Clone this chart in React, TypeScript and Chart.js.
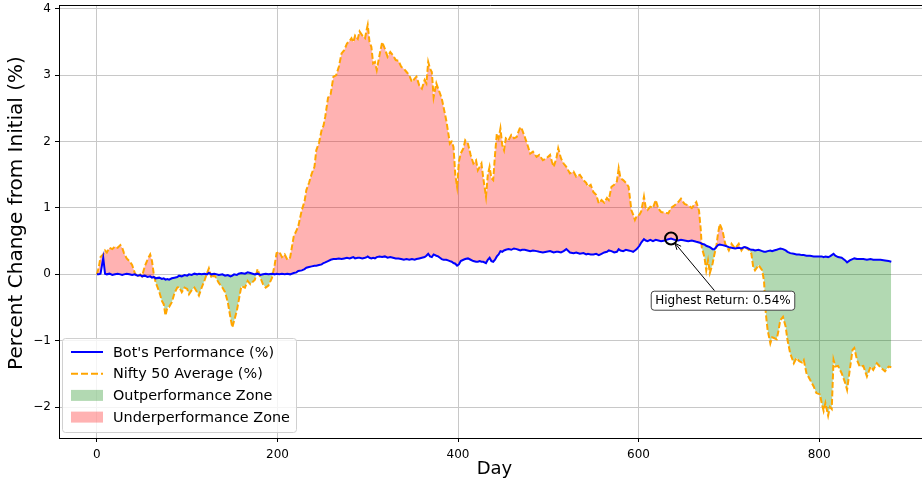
import React, { useEffect, useRef } from 'react';
import { Chart, registerables } from 'chart.js';

Chart.register(...registerables);

const days = [
  0, 2, 4, 7, 9, 11, 14, 17, 20, 23,
  26, 28, 30, 33, 36, 39, 42, 45, 48, 50,
  53, 56, 59, 61, 63, 65, 69, 72, 74, 76,
  78, 80, 83, 86, 89, 91, 94, 97, 100, 102,
  105, 108, 111, 113, 116, 119, 122, 124, 127, 130,
  133, 135, 139, 142, 145, 148, 150, 152, 155, 157,
  160, 164, 167, 170, 175, 178, 181, 184, 187, 190,
  194, 197, 199, 202, 205, 208, 211, 214, 218, 221,
  223, 227, 230, 232, 235, 238, 241, 243, 246, 249,
  251, 253, 256, 259, 262, 265, 268, 271, 274, 277,
  280, 282, 284, 286, 289, 291, 294, 297, 299, 300,
  302, 304, 306, 308, 310, 313, 316, 319, 322, 325,
  328, 331, 334, 337, 340, 343, 346, 349, 352, 354,
  357, 360, 363, 365, 367, 369, 371, 373, 376, 378,
  380, 382, 384, 387, 389, 391, 393, 395, 397, 399,
  401, 403, 406, 408, 411, 414, 417, 420, 422, 424,
  426, 428, 431, 433, 435, 437, 439, 441, 443, 445,
  447, 449, 451, 453, 456, 459, 462, 465, 467, 469,
  471, 474, 477, 480, 483, 487, 490, 494, 498, 502,
  504, 506, 509, 511, 514, 517, 520, 524, 528, 531,
  535, 539, 542, 544, 547, 550, 553, 556, 559, 562,
  565, 567, 570, 573, 576, 578, 580, 583, 586, 589,
  592, 594, 596, 598, 601, 603, 606, 608, 610, 613,
  616, 619, 622, 625, 629, 633, 636, 640, 644, 647,
  651, 655, 659, 664, 667, 669, 670, 673, 675, 677,
  679, 682, 684, 686, 688, 690, 693, 696, 700, 703,
  707, 711, 714, 717, 720, 723, 725, 727, 729, 733,
  737, 739, 741, 743, 746, 748, 750, 753, 755, 757,
  760, 763, 765, 768, 772, 775, 778, 781, 783, 786,
  790, 794, 797, 801, 803, 805, 807, 810, 812, 814,
  816, 818, 821, 825, 829, 831, 834, 837, 839, 842,
  845, 849, 853, 857, 860, 864, 868, 873, 877, 880,
];

const niftyValues = [
  0.0, 0.1, 0.26, 0.3, 0.36, 0.33, 0.4, 0.38, 0.42, 0.4,
  0.44, 0.4, 0.32, 0.24, 0.2, 0.14, 0.02, -0.04, 0.0, -0.03,
  0.12, 0.22, 0.3, 0.2, 0.0, -0.12, -0.26, -0.4, -0.45, -0.62,
  -0.5, -0.49, -0.42, -0.28, -0.2, -0.19, -0.27, -0.2, -0.22, -0.3,
  -0.24, -0.2, -0.27, -0.32, -0.2, -0.1, 0.02, 0.09, -0.06, -0.01,
  -0.08, -0.13, -0.2, -0.27, -0.42, -0.66, -0.8, -0.7, -0.55, -0.4,
  -0.18, -0.2, -0.1, -0.15, -0.08, 0.08, -0.05, -0.15, -0.2, -0.17,
  -0.05, 0.15, 0.32, 0.34, 0.26, 0.3, 0.22, 0.25, 0.57, 0.66,
  0.72, 0.97, 1.1, 1.27, 1.38, 1.52, 1.62, 1.87, 1.98, 2.18,
  2.24, 2.38, 2.66, 2.72, 2.98, 3.0, 3.13, 3.33, 3.38, 3.48,
  3.52, 3.56, 3.5, 3.6, 3.55, 3.66, 3.6, 3.56, 3.7, 3.76,
  3.5, 3.43, 3.18, 3.2, 3.08, 3.3, 3.5, 3.4, 3.28, 3.35,
  3.3, 3.23, 3.22, 3.13, 3.1, 3.05, 3.0, 2.9, 2.95, 2.98,
  2.85, 2.8, 2.93, 2.88, 3.2, 3.1, 3.05, 2.67, 2.88, 2.8,
  2.73, 2.65, 2.52, 2.32, 2.15, 1.97, 2.0, 1.92, 1.5, 1.32,
  1.7, 1.82, 1.9, 2.02, 1.97, 1.8, 1.67, 1.72, 1.57, 1.62,
  1.67, 1.45, 1.17, 1.5, 1.62, 1.45, 1.42, 1.8, 2.12, 2.05,
  2.2, 1.95, 1.87, 2.05, 2.02, 2.1, 2.05, 2.07, 2.15, 2.22,
  2.18, 2.07, 1.95, 1.82, 1.85, 1.77, 1.8, 1.72, 1.75, 1.8,
  1.7, 1.62, 1.75, 1.9, 1.75, 1.67, 1.62, 1.52, 1.55, 1.47,
  1.5, 1.42, 1.38, 1.32, 1.35, 1.24, 1.2, 1.07, 1.12, 1.08,
  1.15, 1.12, 1.32, 1.35, 1.4, 1.6, 1.45, 1.42, 1.38, 1.32,
  0.97, 0.9, 0.82, 0.88, 0.9, 0.95, 1.17, 1.0, 0.97, 1.02,
  1.0, 1.12, 0.99, 0.94, 0.93, 0.92, 1.0, 1.04, 1.09, 1.14,
  1.06, 1.04, 1.0, 1.09, 0.96, 0.66, 0.41, 0.26, 0.06, 0.21,
  0.02, 0.16, 0.3, 0.41, 0.61, 0.76, 0.66, 0.46, 0.36, 0.46,
  0.39, 0.46, 0.36, 0.42, 0.39, 0.36, 0.31, 0.11, 0.06, 0.14,
  0.06, -0.1, -0.59, -0.84, -1.04, -0.95, -0.96, -0.98, -0.85, -0.69,
  -0.64, -0.79, -0.99, -1.19, -1.34, -1.26, -1.31, -1.33, -1.29, -1.49,
  -1.59, -1.69, -1.79, -1.81, -1.95, -2.06, -1.94, -2.13, -2.0, -2.03,
  -1.29, -1.39, -1.38, -1.49, -1.64, -1.74, -1.44, -1.14, -1.11, -1.29,
  -1.39, -1.38, -1.54, -1.39, -1.44, -1.34, -1.4, -1.46, -1.39, -1.4,
];

const botValues = [
  0, 0.0, 0.01, 0.25, 0.01, 0.0, 0.01, -0.01, 0.0, 0.01,
  0.0, -0.01, 0.0, 0.01, 0.0, -0.01, 0.0, -0.02, -0.01, -0.03,
  -0.02, -0.04, -0.03, -0.05, -0.04, -0.06, -0.05, -0.07, -0.06, -0.08,
  -0.07, -0.08, -0.06, -0.05, -0.04, -0.02, -0.03, -0.01, -0.02, 0.0,
  -0.01, 0.01, 0.0, 0.01, 0.0, 0.01, 0.0, 0.02, 0.0, 0.01,
  0.0, -0.01, 0.0, -0.02, -0.01, -0.03, -0.02, 0.0, -0.01, 0.01,
  0.02, 0.01, 0.03, 0.02, 0.0, 0.01, -0.01, 0.0, 0.01, 0.0,
  0.01, 0.0, 0.01, 0.0, 0.01, 0.0, 0.01, 0.0, 0.02, 0.03,
  0.05, 0.06, 0.08, 0.1, 0.11, 0.12, 0.13, 0.13, 0.14, 0.15,
  0.17, 0.18, 0.2, 0.22, 0.23, 0.23, 0.24, 0.23, 0.24, 0.25,
  0.24, 0.25, 0.26, 0.24, 0.25, 0.25, 0.24, 0.25, 0.26, 0.27,
  0.25, 0.24, 0.25, 0.24, 0.26, 0.27, 0.26, 0.27, 0.25, 0.26,
  0.25, 0.24, 0.24, 0.23, 0.22, 0.23, 0.22, 0.23, 0.22, 0.23,
  0.24, 0.25, 0.26, 0.28, 0.31, 0.27, 0.26, 0.3, 0.28, 0.27,
  0.25, 0.23, 0.22, 0.22, 0.21, 0.2, 0.19, 0.17, 0.16, 0.13,
  0.15, 0.2, 0.22, 0.23, 0.24, 0.22, 0.2, 0.19, 0.19, 0.2,
  0.19, 0.19, 0.17, 0.22, 0.25, 0.2, 0.19, 0.22, 0.27, 0.3,
  0.35, 0.34, 0.36, 0.37, 0.38, 0.37, 0.39, 0.38, 0.37, 0.36,
  0.37, 0.37, 0.36, 0.35, 0.36, 0.35, 0.34, 0.33, 0.34, 0.35,
  0.34, 0.33, 0.34, 0.34, 0.33, 0.35, 0.38, 0.33, 0.32, 0.33,
  0.31, 0.32, 0.3, 0.31, 0.3, 0.3, 0.31, 0.29, 0.31, 0.33,
  0.34, 0.36, 0.35, 0.33, 0.34, 0.38, 0.36, 0.35, 0.37, 0.36,
  0.35, 0.34, 0.36, 0.38, 0.43, 0.48, 0.53, 0.51, 0.5, 0.52,
  0.5, 0.52, 0.51, 0.5, 0.51, 0.53, 0.54, 0.52, 0.51, 0.52,
  0.51, 0.5, 0.51, 0.49, 0.48, 0.47, 0.46, 0.45, 0.43, 0.42,
  0.41, 0.38, 0.38, 0.41, 0.44, 0.45, 0.44, 0.43, 0.41, 0.4,
  0.39, 0.4, 0.39, 0.41, 0.4, 0.38, 0.37, 0.37, 0.36, 0.37,
  0.35, 0.34, 0.34, 0.35, 0.36, 0.35, 0.36, 0.37, 0.38, 0.39,
  0.38, 0.36, 0.34, 0.32, 0.31, 0.3, 0.3, 0.29, 0.29, 0.28,
  0.28, 0.27, 0.27, 0.27, 0.27, 0.26, 0.27, 0.26, 0.27, 0.29,
  0.31, 0.28, 0.26, 0.25, 0.21, 0.18, 0.21, 0.23, 0.24, 0.23,
  0.23, 0.23, 0.22, 0.23, 0.22, 0.22, 0.22, 0.21, 0.2, 0.19,
];

const xTickValues = [0, 200, 400, 600, 800];
const yTickValues = [-2, -1, 0, 1, 2, 3, 4];
const xTitle = 'Day';
const yTitle = 'Percent Change from Initial (%)';
const legendLabels = [
  "Bot's Performance (%)",
  'Nifty 50 Average (%)',
  'Outperformance Zone',
  'Underperformance Zone',
];

const FONT = "'DejaVu Sans', sans-serif";
const BLUE = '#0000ff';
const ORANGE = '#ffa500';
const GREEN_FILL = 'rgba(0,128,0,0.3)';
const RED_FILL = 'rgba(255,0,0,0.3)';

function roundRect(ctx: CanvasRenderingContext2D, x: number, y: number, w: number, h: number, r: number) {
  ctx.beginPath();
  ctx.moveTo(x + r, y);
  ctx.lineTo(x + w - r, y);
  ctx.quadraticCurveTo(x + w, y, x + w, y + r);
  ctx.lineTo(x + w, y + h - r);
  ctx.quadraticCurveTo(x + w, y + h, x + w - r, y + h);
  ctx.lineTo(x + r, y + h);
  ctx.quadraticCurveTo(x, y + h, x, y + h - r);
  ctx.lineTo(x, y + r);
  ctx.quadraticCurveTo(x, y, x + r, y);
  ctx.closePath();
}

export default function App() {
  const ref = useRef<HTMLCanvasElement>(null);

  useEffect(() => {
    const canvas = ref.current;
    if (!canvas) return;
    const n = Math.min(days.length, niftyValues.length, botValues.length);
    const botPts = [] as { x: number; y: number }[];
    const niftyPts = [] as { x: number; y: number }[];
    for (let i = 0; i < n; i++) {
      botPts.push({ x: days[i], y: botValues[i] });
      niftyPts.push({ x: days[i], y: niftyValues[i] });
    }
    let maxI = 0;
    for (let i = 0; i < n; i++) if (botValues[i] > botValues[maxI]) maxI = i;
    const maxDay = days[maxI];
    const maxVal = botValues[maxI];

    const overlay = {
      id: 'overlay',
      afterDraw(chart: any) {
        const ctx: CanvasRenderingContext2D = chart.ctx;
        const ca = chart.chartArea;
        const xs = chart.scales.x;
        const ys = chart.scales.y;
        ctx.save();
        // top spine
        ctx.strokeStyle = '#000';
        ctx.lineWidth = 1;
        ctx.beginPath();
        ctx.moveTo(ca.left, ca.top + 0.5);
        ctx.lineTo(ca.right, ca.top + 0.5);
        ctx.stroke();

        // axis titles (the original axes extends slightly past the right edge)
        ctx.fillStyle = '#000';
        ctx.font = `18px ${FONT}`;
        ctx.textAlign = 'center';
        ctx.textBaseline = 'middle';
        ctx.fillText(xTitle, ca.left + (ca.right - ca.left + 8) / 2, 469);
        ctx.save();
        ctx.translate(17, 213);
        ctx.rotate(-Math.PI / 2);
        ctx.font = `20px ${FONT}`;
        ctx.fillText(yTitle, 0, 0);
        ctx.restore();

        // highest return marker
        const px = xs.getPixelForValue(maxDay);
        const py = ys.getPixelForValue(maxVal);
        ctx.beginPath();
        ctx.arc(px, py, 6, 0, Math.PI * 2);
        ctx.lineWidth = 2;
        ctx.strokeStyle = '#000';
        ctx.stroke();

        // annotation box
        const text = `Highest Return: ${maxVal.toFixed(2)}%`;
        ctx.font = `12px ${FONT}`;
        const tw = ctx.measureText(text).width;
        const cx = xs.getPixelForValue(maxDay + 57);
        const cy = ys.getPixelForValue(maxVal - 0.93);
        const bw = tw + 8;
        const bh = 19;
        const bx = cx - bw / 2;
        const by = cy - bh / 2;

        // arrow
        const dx = px - cx;
        const dy = py - cy;
        const t = (bh / 2) / Math.abs(dy);
        const sx = cx + dx * t;
        const sy = cy + dy * t;
        const len = Math.hypot(px - sx, py - sy);
        const ux = (px - sx) / len;
        const uy = (py - sy) / len;
        const ex = px - ux * 6;
        const ey = py - uy * 6;
        ctx.beginPath();
        ctx.moveTo(sx, sy);
        ctx.lineTo(ex, ey);
        ctx.lineWidth = 1;
        ctx.strokeStyle = '#000';
        ctx.stroke();
        const ang = Math.atan2(uy, ux);
        const hl = 7;
        ctx.beginPath();
        ctx.moveTo(ex - hl * Math.cos(ang - 0.4), ey - hl * Math.sin(ang - 0.4));
        ctx.lineTo(ex, ey);
        ctx.lineTo(ex - hl * Math.cos(ang + 0.4), ey - hl * Math.sin(ang + 0.4));
        ctx.stroke();

        roundRect(ctx, bx + 0.5, by + 0.5, bw, bh, 3);
        ctx.fillStyle = '#fff';
        ctx.fill();
        ctx.strokeStyle = '#444';
        ctx.lineWidth = 1;
        ctx.stroke();
        ctx.fillStyle = '#000';
        ctx.textAlign = 'center';
        ctx.textBaseline = 'middle';
        ctx.fillText(text, cx + 0.5, cy + 1);

        // legend
        const lx = ca.left + 3;
        const lw = 234;
        const lh = 94;
        const ly = ca.bottom - 6 - lh;
        roundRect(ctx, lx + 0.5, ly + 0.5, lw, lh, 3);
        ctx.fillStyle = 'rgba(255,255,255,0.8)';
        ctx.fill();
        ctx.strokeStyle = '#d0d0d0';
        ctx.stroke();
        ctx.font = `14.4px ${FONT}`;
        ctx.textAlign = 'left';
        ctx.textBaseline = 'middle';
        const rowY = (i: number) => ly + 14 + i * 21.7;
        const hx0 = lx + 9;
        const hx1 = lx + 41;
        ctx.beginPath();
        ctx.moveTo(hx0, rowY(0));
        ctx.lineTo(hx1, rowY(0));
        ctx.strokeStyle = BLUE;
        ctx.lineWidth = 2;
        ctx.setLineDash([]);
        ctx.stroke();
        ctx.beginPath();
        ctx.moveTo(hx0, rowY(1));
        ctx.lineTo(hx1, rowY(1));
        ctx.strokeStyle = ORANGE;
        ctx.setLineDash([7, 3]);
        ctx.stroke();
        ctx.setLineDash([]);
        ctx.fillStyle = GREEN_FILL;
        ctx.fillRect(hx0, rowY(2) - 5.5, hx1 - hx0, 11);
        ctx.fillStyle = RED_FILL;
        ctx.fillRect(hx0, rowY(3) - 5.5, hx1 - hx0, 11);
        ctx.fillStyle = '#000';
        legendLabels.forEach((lab, i) => ctx.fillText(lab, lx + 51, rowY(i) + 1));
        ctx.restore();
      },
    };

    const chart = new Chart(canvas, {
      type: 'line',
      data: {
        datasets: [
          {
            label: legendLabels[0],
            data: botPts,
            borderColor: BLUE,
            borderWidth: 2,
            pointRadius: 0,
            tension: 0,
            fill: false,
          },
          {
            label: legendLabels[1],
            data: niftyPts,
            borderColor: ORANGE,
            borderWidth: 2,
            borderDash: [6, 2.5],
            pointRadius: 0,
            tension: 0,
            fill: { target: 0, above: RED_FILL, below: GREEN_FILL },
          },
        ],
      },
      options: {
        responsive: false,
        maintainAspectRatio: false,
        animation: false,
        devicePixelRatio: 1,
        layout: { padding: { top: 5, left: 0, right: 0, bottom: 0 } },
        plugins: {
          legend: { display: false },
          tooltip: { enabled: false },
        },
        scales: {
          x: {
            type: 'linear',
            min: -42,
            max: 914,
            afterBuildTicks: (s: any) => {
              s.ticks = xTickValues.map((v) => ({ value: v }));
            },
            afterFit: (s: any) => {
              s.height = 46;
              s.paddingLeft = 0;
              s.paddingRight = 0;
            },
            ticks: {
              font: { family: FONT, size: 12 },
              color: '#000',
              padding: 6,
              maxRotation: 0,
              autoSkip: false,
            },
            grid: { color: '#c8c8c8', lineWidth: 1, tickColor: '#000', tickLength: 4 },
            border: { display: true, color: '#000', width: 1 },
            title: { display: false },
          },
          y: {
            type: 'linear',
            min: -2.467,
            max: 4.06,
            afterBuildTicks: (s: any) => {
              s.ticks = yTickValues.map((v) => ({ value: v }));
            },
            afterFit: (s: any) => {
              s.width = 59;
              s.paddingTop = 0;
              s.paddingBottom = 0;
            },
            ticks: {
              font: { family: FONT, size: 12 },
              color: '#000',
              padding: 4,
              autoSkip: false,
              callback: (v: any) => (v < 0 ? '\u2212' + Math.abs(v) : String(v)),
            },
            grid: { color: '#c8c8c8', lineWidth: 1, tickColor: '#000', tickLength: 4 },
            border: { display: true, color: '#000', width: 1 },
            title: { display: false },
          },
        },
      },
      plugins: [overlay],
    } as any);

    return () => chart.destroy();
  }, []);

  return (
    <div style={{ position: 'absolute', left: 0, top: 0, width: 922, height: 484, background: '#fff' }}>
      <canvas ref={ref} width={922} height={484} style={{ display: 'block', width: 922, height: 484 }} />
    </div>
  );
}
